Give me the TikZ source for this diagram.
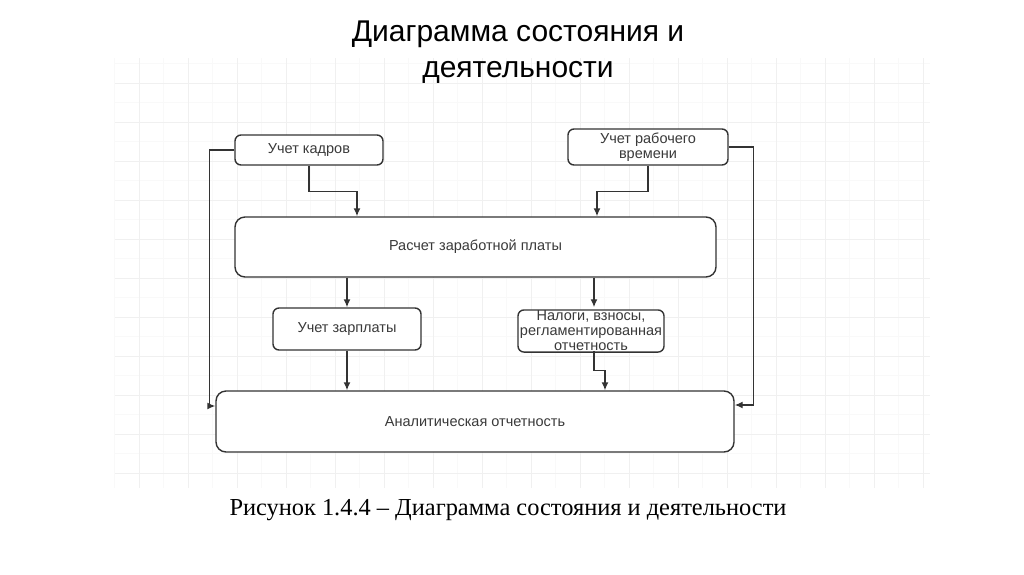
\documentclass[tikz,border=0pt]{standalone}
\usepackage{fontspec}
\setmainfont{Liberation Sans}
\newfontfamily\captionfont{Liberation Serif}
\usetikzlibrary{arrows.meta}

\definecolor{linegray}{HTML}{333333}
\definecolor{textgray}{HTML}{3A3A3A}

\tikzset{
  box/.style={rectangle, rounded corners=6pt, draw=linegray, line width=1.4pt,
    fill=white, text=textgray, inner sep=1pt, align=center,
    font=\fontsize{14.5}{15}\selectfont},
  arrow/.style={->, draw=linegray, line width=1.4pt},
  gridmajor/.style={gray!12, line width=0.8pt},
  gridminor/.style={gray!5, line width=0.6pt},
}

\begin{document}
\begin{tikzpicture}[x=1pt, y=-1pt, >={Latex[length=8pt,width=7pt]}]

    \useasboundingbox (0,0) rectangle (1024,574);

    % Grid
    \foreach \i in {0,...,33}
        \draw[gridminor] (114.5+24.5*\i,58) -- (114.5+24.5*\i,488);
    \foreach \j in {0,...,21}
        \draw[gridminor] (115,63.5+19.5*\j) -- (930,63.5+19.5*\j);
    \foreach \i in {0,...,16}
        \draw[gridmajor] (139+49*\i,58) -- (139+49*\i,488);
    \foreach \j in {0,...,10}
        \draw[gridmajor] (115,83+39*\j) -- (930,83+39*\j);

    % Nodes
    \node[font=\fontsize{30}{36}\selectfont, align=center] (title) at (518,52) {Диаграмма состояния и\\деятельности};

    \node[box, minimum width=148pt, minimum height=30pt] (kadry) at (309,150) {Учет кадров};
    \node[box, minimum width=160pt, minimum height=36pt] (vremya) at (648,147) {Учет рабочего\\времени};
    \node[box, rounded corners=10pt, minimum width=481pt, minimum height=60pt] (raschet) at (475.5,247) {Расчет заработной платы};
    \node[box, minimum width=148pt, minimum height=42pt] (zarplata) at (347,329) {Учет зарплаты};
    \node[box, minimum width=146pt, minimum height=42pt] (nalogi) at (591,331) {Налоги, взносы,\\регламентированная\\отчетность};
    \node[box, rounded corners=10pt, minimum width=518pt, minimum height=61pt] (analitika) at (475,421.5) {Аналитическая отчетность};

    \node[font=\captionfont\fontsize{24.4}{28}\selectfont] (caption) at (508,510) {Рисунок 1.4.4 – Диаграмма состояния и деятельности};

    % Edges
    \draw[arrow] (kadry.south) -- ++(0,26) -| ([xshift=-118.5pt]raschet.north);
    \draw[arrow] (vremya.south) -- ++(0,26) -| ([xshift=121.5pt]raschet.north);
    \draw[arrow] (kadry.west) -- ++(-25,0) |- ([yshift=15.5pt]analitika.west);
    \draw[arrow] (vremya.east) -- ++(25,0) |- ([yshift=16.5pt]analitika.east);
    \draw[arrow] (raschet.south -| zarplata.north) -- (zarplata.north);
    \draw[arrow] ([xshift=3pt]raschet.south -| nalogi.north) -- ([xshift=3pt,yshift=2pt]nalogi.north);
    \draw[arrow] (zarplata.south) -- (zarplata.south |- analitika.north);
    \draw[arrow] ([xshift=3pt,yshift=2pt]nalogi.south) -- ++(0,20) -| ([xshift=130pt]analitika.north);

\end{tikzpicture}
\end{document}
